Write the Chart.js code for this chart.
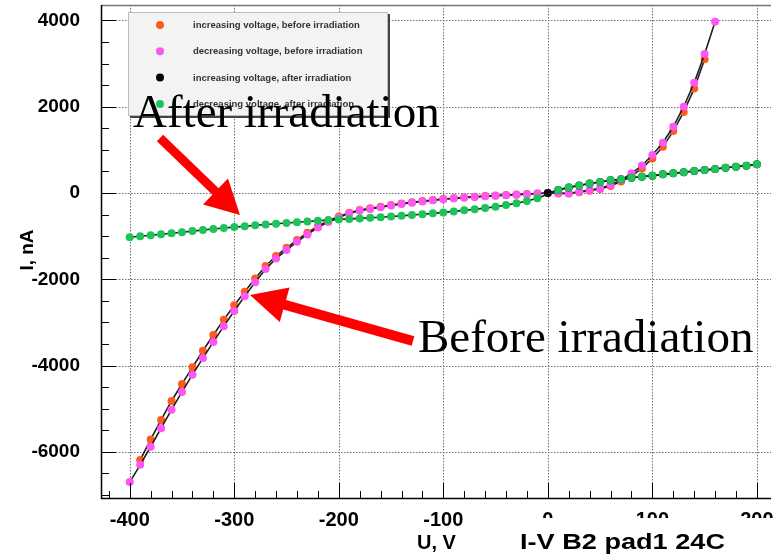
<!DOCTYPE html>
<html>
<head>
<meta charset="utf-8">
<script src="https://cdn.jsdelivr.net/npm/chart.js@4.4.0/dist/chart.umd.min.js"></script>
<style>
  html, body { margin: 0; padding: 0; background: #fff; overflow: hidden; }
  #wrap { width: 775px; height: 559px; }
</style>
</head>
<body>
<div id="wrap"><canvas id="ivChart" width="775" height="559"></canvas></div>
<script>
// I-V curves, pad1 of B2 at 24C. Voltage in V, current in nA.

// increasing voltage, before irradiation (orange)
const upBeforeU = [-390, -380, -370, -360, -350, -340, -330, -320, -310, -300,
  -290, -280, -270, -260, -250, -240, -230, -220, -210, -200,
  -190, -180, -170, -160, -150, -140, -130, -120, -110, -100,
  -90, -80, -70, -60, -50, -40, -30, -20, -10, 0,
  10, 20, 30, 40, 50, 60, 70, 80, 90, 100, 110, 120, 130, 140, 150];
const upBeforeI = [-6190, -5710, -5260, -4820, -4425, -4040, -3655, -3290, -2935, -2600,
  -2290, -1980, -1690, -1460, -1270, -1090, -920, -770, -645, -545,
  -455, -395, -355, -318, -280, -245, -215, -188, -163, -140,
  -120, -102, -86, -72, -58, -46, -35, -24, -12, 0,
  -12, -10, 18, 52, 92, 160, 265, 395, 570, 800, 1070, 1435, 1880, 2420, 3100];

// decreasing voltage, before irradiation (magenta)
const downBeforeU = [-400, -390, -380, -370, -360, -350, -340, -330, -320, -310,
  -300, -290, -280, -270, -260, -250, -240, -230, -220, -210,
  -200, -190, -180, -170, -160, -150, -140, -130, -120, -110,
  -100, -90, -80, -70, -60, -50, -40, -30, -20, -10,
  0, 10, 20, 30, 40, 50, 60, 70, 80, 90, 100, 110, 120, 130, 140, 150, 160];
const downBeforeI = [-6700, -6300, -5880, -5450, -5020, -4610, -4210, -3825, -3450, -3085,
  -2735, -2390, -2070, -1760, -1520, -1320, -1130, -960, -800, -670,
  -565, -470, -410, -370, -330, -290, -255, -224, -195, -170,
  -145, -124, -106, -90, -76, -62, -50, -38, -26, -14,
  0, -8, -5, 30, 70, 110, 185, 300, 455, 635, 880, 1165, 1535, 2000, 2555, 3220, 3970];

// increasing voltage, after irradiation (black, mostly hidden under green)
const upAfterU = [0, 10, 20, 30, 40, 50, 60, 70, 80, 90, 100,
  110, 120, 130, 140, 150, 160, 170, 180, 190, 200];
const upAfterI = [0, 70, 130, 172, 222, 256, 293, 318, 355, 378, 402,
  432, 456, 480, 510, 533, 556, 587, 610, 634, 665];

// decreasing voltage, after irradiation (green)
const downAfterU = [-400, -390, -380, -370, -360, -350, -340, -330, -320, -310,
  -300, -290, -280, -270, -260, -250, -240, -230, -220, -210,
  -200, -190, -180, -170, -160, -150, -140, -130, -120, -110,
  -100, -90, -80, -70, -60, -50, -40, -30, -20, -10,
  10, 20, 30, 40, 50, 60, 70, 80, 90, 100,
  110, 120, 130, 140, 150, 160, 170, 180, 190, 200];
const downAfterI = [-1025, -1002, -978, -955, -932, -908, -883, -858, -835, -812,
  -790, -770, -750, -731, -713, -695, -677, -660, -644, -628,
  -613, -600, -588, -575, -561, -546, -529, -511, -492, -471,
  -449, -426, -402, -377, -350, -318, -280, -238, -185, -120,
  70, 130, 172, 222, 256, 293, 318, 355, 378, 402,
  432, 456, 480, 510, 533, 556, 587, 610, 634, 665];

const uTicks = [-400, -300, -200, -100, 0, 100, 200];
const iTicks = [-6000, -4000, -2000, 0, 2000, 4000];

const seriesLabels = [
  'increasing voltage, before irradiation',
  'decreasing voltage, before irradiation',
  'increasing voltage, after irradiation',
  'decreasing voltage, after irradiation'
];
const seriesColors = ['#ff5a1e', '#ff55f5', '#000000', '#1cc45a'];

function toPoints(us, is) {
  return us.map((u, k) => ({ x: u, y: is[k] }));
}

function drawArrow(ctx, x0, y0, x1, y1, shaft, headLen, headHalf) {
  const len = Math.hypot(x1 - x0, y1 - y0);
  const ux = (x1 - x0) / len, uy = (y1 - y0) / len;
  const nx = -uy, ny = ux;
  const bx = x1 - ux * headLen, by = y1 - uy * headLen;
  ctx.beginPath();
  ctx.moveTo(x0 + nx * shaft / 2, y0 + ny * shaft / 2);
  ctx.lineTo(bx + nx * shaft / 2, by + ny * shaft / 2);
  ctx.lineTo(bx + nx * headHalf, by + ny * headHalf);
  ctx.lineTo(x1, y1);
  ctx.lineTo(bx - nx * headHalf, by - ny * headHalf);
  ctx.lineTo(bx - nx * shaft / 2, by - ny * shaft / 2);
  ctx.lineTo(x0 - nx * shaft / 2, y0 - ny * shaft / 2);
  ctx.closePath();
  ctx.fill();
}

// ROOT-like frame: dotted grid, inside ticks, boxed legend, notes
const rootFrame = {
  id: 'rootFrame',
  beforeDatasetsDraw(chart) {
    const { ctx, chartArea: a, scales: { x, y } } = chart;
    ctx.save();
    ctx.strokeStyle = '#707070';
    ctx.lineWidth = 1;
    ctx.setLineDash([1.5, 1.5]);
    uTicks.forEach(v => {
      const p = Math.round(x.getPixelForValue(v)) + 0.5;
      ctx.beginPath();
      ctx.moveTo(p, a.top); ctx.lineTo(p, a.bottom);
      ctx.stroke();
    });
    iTicks.forEach(v => {
      const p = Math.round(y.getPixelForValue(v)) + 0.5;
      ctx.beginPath();
      ctx.moveTo(a.left, p); ctx.lineTo(a.right, p);
      ctx.stroke();
    });
    ctx.restore();
  },
  afterDraw(chart) {
    const { ctx, chartArea: a, scales: { x, y } } = chart;
    ctx.save();

    // frame
    ctx.strokeStyle = '#777';
    ctx.lineWidth = 1.5;
    ctx.beginPath();
    ctx.moveTo(a.left, a.top + 0.5); ctx.lineTo(a.right, a.top + 0.5);
    ctx.stroke();
    ctx.strokeStyle = '#000';
    ctx.lineWidth = 1.5;
    ctx.beginPath();
    ctx.moveTo(a.left + 0.5, a.top); ctx.lineTo(a.left + 0.5, a.bottom + 0.5);
    ctx.lineTo(a.right, a.bottom + 0.5);
    ctx.stroke();

    // ticks, pointing into the frame
    ctx.lineWidth = 1;
    ctx.beginPath();
    for (let v = -420; v <= 200; v += 20) {
      const p = Math.round(x.getPixelForValue(v)) + 0.5;
      const len = v % 100 === 0 ? 15 : 7;
      ctx.moveTo(p, a.bottom); ctx.lineTo(p, a.bottom - len);
    }
    for (let v = -7000; v <= 4000; v += 500) {
      const p = Math.round(y.getPixelForValue(v)) + 0.5;
      const len = v % 2000 === 0 ? 15 : 8;
      ctx.moveTo(a.left, p); ctx.lineTo(a.left + len, p);
    }
    ctx.stroke();

    // legend box
    const lx = 128, ly = 12, lw = 260, lh = 104;
    ctx.fillStyle = '#444';
    ctx.fillRect(lx + 2, ly + 2, lw, lh);
    ctx.fillStyle = '#f3f3f3';
    ctx.fillRect(lx, ly, lw, lh);
    ctx.strokeStyle = '#bdbdbd';
    ctx.lineWidth = 1;
    ctx.strokeRect(lx + 0.5, ly + 0.5, lw - 1, lh - 1);
    ctx.font = 'bold 9.5px "Liberation Sans", Arial, sans-serif';
    ctx.textBaseline = 'middle';
    ctx.textAlign = 'left';
    seriesLabels.forEach((lab, k) => {
      const ry = ly + 13 + k * 26.3;
      ctx.fillStyle = seriesColors[k];
      ctx.beginPath();
      ctx.arc(lx + 32, ry, 4, 0, Math.PI * 2);
      ctx.fill();
      ctx.fillStyle = '#333';
      ctx.fillText(lab, lx + 65, ry + 0.5);
    });

    // axis titles
    ctx.fillStyle = '#000';
    ctx.font = 'bold 19px "Liberation Sans", Arial, sans-serif';
    ctx.textBaseline = 'alphabetic';
    ctx.save();
    ctx.translate(33, 250);
    ctx.rotate(-Math.PI / 2);
    ctx.textAlign = 'center';
    ctx.fillText('I, nA', 0, 0);
    ctx.restore();

    ctx.font = 'bold 20px "Liberation Sans", Arial, sans-serif';
    ctx.textAlign = 'left';
    ctx.fillText('U, V', 417, 549);

    // title box covers the lower part of the right tick labels
    ctx.fillStyle = '#fff';
    ctx.fillRect(505, 518, 270, 41);
    ctx.fillStyle = '#000';
    ctx.font = 'bold 22px "Liberation Sans", Arial, sans-serif';
    const title = 'I-V B2 pad1 24C';
    const tw = ctx.measureText(title).width;
    ctx.save();
    ctx.translate(520, 549);
    ctx.scale(205 / tw, 1);
    ctx.fillText(title, 0, 0);
    ctx.restore();

    // notes
    ctx.fillStyle = '#ff0000';
    drawArrow(ctx, 160, 138, 240, 215, 9, 34, 18);
    drawArrow(ctx, 413, 341, 250, 295, 10, 36, 18);

    ctx.fillStyle = '#000';
    ctx.font = '47px "Liberation Serif", "Times New Roman", serif';
    ctx.fillText('After irradiation', 133, 127);
    ctx.fillText('Before irradiation', 418, 352);

    ctx.restore();
  }
};

const tickFont = (size) => ({ family: '"Liberation Sans", Arial, sans-serif', size: size, weight: 'bold' });
const line = { showLine: true, borderColor: '#1e1e1e', borderWidth: 1.6, pointRadius: 4, pointBorderWidth: 0, tension: 0 };

new Chart(document.getElementById('ivChart'), {
  type: 'scatter',
  data: {
    datasets: [
      Object.assign({ label: seriesLabels[0], data: toPoints(upBeforeU, upBeforeI), pointBackgroundColor: seriesColors[0], order: 4 }, line),
      Object.assign({ label: seriesLabels[1], data: toPoints(downBeforeU, downBeforeI), pointBackgroundColor: seriesColors[1], order: 3 }, line),
      Object.assign({ label: seriesLabels[2], data: toPoints(upAfterU, upAfterI), pointBackgroundColor: seriesColors[2], order: 2 }, line),
      Object.assign({ label: seriesLabels[3], data: toPoints(downAfterU, downAfterI), pointBackgroundColor: seriesColors[3], order: 1 }, line)
    ]
  },
  options: {
    responsive: false,
    animation: false,
    devicePixelRatio: 1,
    layout: { padding: { left: 0, right: 0, top: 5, bottom: 0 } },
    plugins: { legend: { display: false }, tooltip: { enabled: false } },
    scales: {
      x: {
        type: 'linear',
        min: -427.5,
        max: 213.5,
        grid: { display: false },
        border: { display: false },
        ticks: { color: '#000', font: tickFont(20), padding: 2, maxRotation: 0, autoSkip: false, callback: v => String(v) },
        afterBuildTicks: s => { s.ticks = uTicks.map(v => ({ value: v })); },
        afterFit: s => { s.height = 61; s.paddingLeft = 0; s.paddingRight = 0; }
      },
      y: {
        type: 'linear',
        min: -7068,
        max: 4357,
        grid: { display: false },
        border: { display: false },
        ticks: { color: '#000', font: tickFont(19), padding: 13, autoSkip: false, callback: v => String(v) },
        afterBuildTicks: s => { s.ticks = iTicks.map(v => ({ value: v })); },
        afterFit: s => { s.width = 101; s.paddingTop = 0; s.paddingBottom = 0; }
      }
    }
  },
  plugins: [rootFrame]
});
</script>
</body>
</html>
